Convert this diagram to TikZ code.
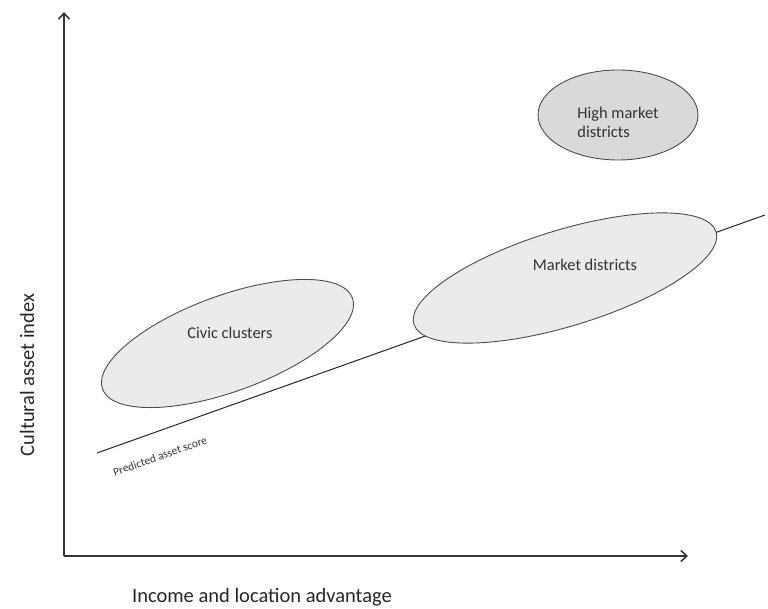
\documentclass[tikz,border=0pt]{standalone}
\usepackage{fontspec}
\setmainfont{Carlito}
\usetikzlibrary{shapes.geometric,arrows.meta}
\begin{document}
\begin{tikzpicture}[x=1pt,y=-1pt,
 blob/.style={ellipse, draw=black!70, line width=0.9pt, fill=black!8, inner sep=0pt},
 axisline/.style={draw=black!80, line width=1.4pt, -{Straight Barb[length=6pt,width=11pt,line width=1.6pt]}},
 lbl/.style={font=\fontsize{16.4}{19}\selectfont, text=black!80},
 axlbl/.style={font=\fontsize{20.5}{24}\selectfont, text=black!85}]
\useasboundingbox (0,0) rectangle (768,609);
\coordinate (O) at (64,556);
\coordinate (ytip) at (64,12);
\coordinate (xtip) at (688,556);
\draw[axisline] (O) -- (ytip);
\draw[axisline] (O) -- (xtip);
\coordinate (ps) at (97,453);
\coordinate (pe) at (765,215);
\draw[line width=1pt, black!85] (ps) -- (pe);
\node[rotate=19.6, font=\fontsize{11.5}{13}\selectfont, text=black!80] (plabel) at (160,456) {Predicted asset score};
\node[blob, minimum width=266pt, minimum height=96pt, rotate=20] (civic) at (227.5,343.5) {};
\node[blob, minimum width=316pt, minimum height=96pt, rotate=17] (market) at (565,278) {};
\node[blob, fill=black!15, minimum width=160pt, minimum height=90pt] (high) at (618,115) {};
\node[lbl] (civict) at (230,333) {Civic clusters};
\node[lbl] (markett) at (585,265) {Market districts};
\node[lbl, align=left] (hight) at (618,122) {High market\\districts};
\node[axlbl, rotate=90] (ylab) at (27,375) {Cultural asset index};
\node[axlbl] (xlab) at (262,597) {Income and location advantage};
\end{tikzpicture}
\end{document}
